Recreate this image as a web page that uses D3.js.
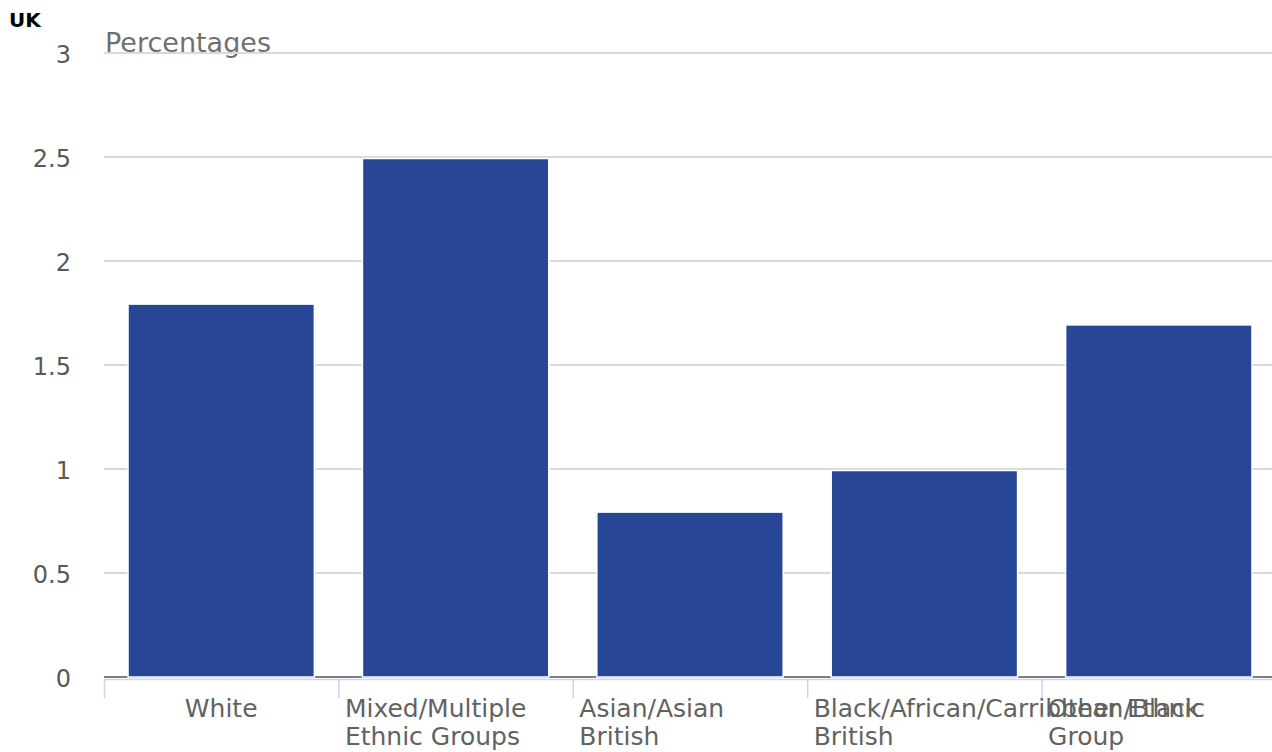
<!DOCTYPE html>
<html>
<head>
<meta charset="utf-8">
<script src="https://cdn.jsdelivr.net/npm/d3@7"></script>
<style>
  html, body { margin: 0; padding: 0; background: #fff; }
  svg { display: block; font-family: "DejaVu Sans", sans-serif; }
</style>
</head>
<body>
<svg id="chart" width="1272" height="752"></svg>
<script>
// Ethnic group shares, UK (percentages)
const categories = ["White", "Mixed/Multiple Ethnic Groups", "Asian/Asian British", "Black/African/Carribbean/Black British", "Other Ethnic Group"];
// Label lines as wrapped under each category
const categoryLines = [["White"], ["Mixed/Multiple", "Ethnic Groups"], ["Asian/Asian", "British"], ["Black/African/Carribbean/Black", "British"], ["Other Ethnic", "Group"]];
const values = [1.8, 2.5, 0.8, 1.0, 1.7];
const yTicks = [0, 0.5, 1, 1.5, 2, 2.5, 3];
const yTickLabels = ["0", "0.5", "1", "1.5", "2", "2.5", "3"];

const svg = d3.select("#chart");
const plotLeft = 104, plotRight = 1276, plotTop = 53, plotBottom = 677;

const x = d3.scaleBand().domain(categories).range([plotLeft, plotRight]).paddingInner(0.205).paddingOuter(0.1025);
const y = d3.scaleLinear().domain([0, 3]).range([plotBottom, plotTop]);

// Title and unit
svg.append("text").attr("x", 9).attr("y", 27).attr("font-size", 20).attr("font-weight", "bold")
  .attr("fill", "#000").text("UK");
svg.append("text").attr("x", 105).attr("y", 52).attr("font-size", 27).attr("fill", "#707070")
  .text("Percentages");

// Gridlines
svg.append("g").selectAll("line").data(yTicks.filter(d => d > 0)).join("line")
  .attr("x1", plotLeft).attr("x2", 1272)
  .attr("y1", d => y(d)).attr("y2", d => y(d))
  .attr("stroke", "#d9d9d9").attr("stroke-width", 2);

// Y axis labels
svg.append("g").selectAll("text").data(yTicks).join("text")
  .attr("x", 71).attr("y", d => y(d) + 10)
  .attr("text-anchor", "end").attr("font-size", 24).attr("fill", "#595959")
  .text((d, i) => yTickLabels[i]);

// Zero line
svg.append("line").attr("x1", plotLeft).attr("x2", 1272)
  .attr("y1", y(0)).attr("y2", y(0)).attr("stroke", "#7f7f7f").attr("stroke-width", 2);

// Bars
svg.append("g").selectAll("rect").data(values).join("rect")
  .attr("x", (d, i) => x(categories[i]))
  .attr("width", x.bandwidth())
  .attr("y", d => y(d) + 1.5)
  .attr("height", d => y(0) - y(d) - 1.5)
  .attr("fill", "#274796")
  .attr("stroke", "#ffffff").attr("stroke-width", 1.5);

// Category axis line and ticks
const step = x.step();
const tickXs = categories.map(c => x(c) - x.paddingInner() * step / 2 + 0.5);
svg.append("line").attr("x1", plotLeft).attr("x2", 1272)
  .attr("y1", plotBottom + 2.5).attr("y2", plotBottom + 2.5)
  .attr("stroke", "#ccd6eb").attr("stroke-width", 1.5);
svg.append("g").selectAll("line").data(tickXs).join("line")
  .attr("x1", d => d).attr("x2", d => d)
  .attr("y1", plotBottom + 2).attr("y2", plotBottom + 21)
  .attr("stroke", "#ccd6eb").attr("stroke-width", 1.5);

// Category labels
const lab = svg.append("g").attr("font-size", 25).attr("fill", "#626262");
categoryLines.forEach((lines, i) => {
  const single = lines.length === 1;
  const lx = single ? x(categories[i]) + x.bandwidth() / 2 : tickXs[i] + 6;
  const t = lab.append("text")
    .attr("x", lx)
    .attr("y", 717)
    .attr("text-anchor", single ? "middle" : "start");
  lines.forEach((ln, j) => {
    t.append("tspan").attr("x", lx).attr("dy", j === 0 ? 0 : 28).text(ln);
  });
});
</script>
</body>
</html>
